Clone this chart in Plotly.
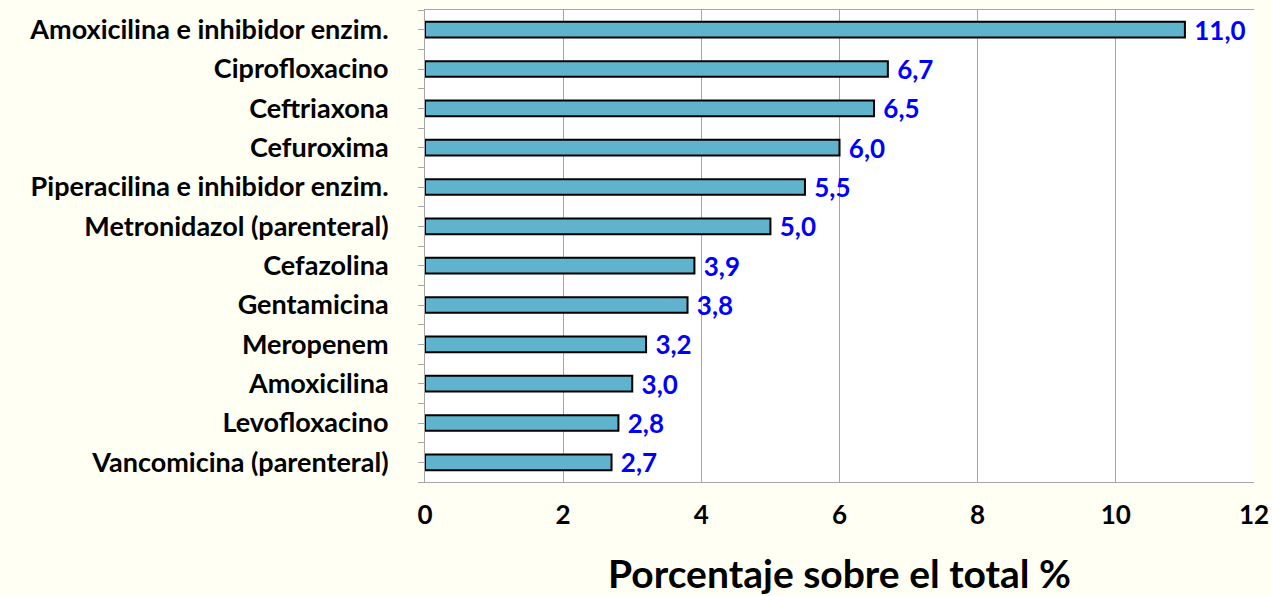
import plotly.graph_objects as go

categorias = [
    "Amoxicilina e inhibidor enzim.",
    "Ciprofloxacino",
    "Ceftriaxona",
    "Cefuroxima",
    "Piperacilina e inhibidor enzim.",
    "Metronidazol (parenteral)",
    "Cefazolina",
    "Gentamicina",
    "Meropenem",
    "Amoxicilina",
    "Levofloxacino",
    "Vancomicina (parenteral)",
]
porcentajes = [11.0, 6.7, 6.5, 6.0, 5.5, 5.0, 3.9, 3.8, 3.2, 3.0, 2.8, 2.7]
ticks_x = [0, 2, 4, 6, 8, 10, 12]

posiciones = list(range(len(categorias)))

# ticks a cada media categoria, como en Excel (centro y limites)
tickvals = []
ticktext = []
for i, c in enumerate(categorias):
    tickvals += [i - 0.5, i]
    ticktext += ["", c]
tickvals.append(len(categorias) - 0.5)
ticktext.append("")

fig = go.Figure(
    go.Bar(
        x=porcentajes,
        y=posiciones,
        orientation="h",
        marker=dict(color="#5FB3CC", line=dict(color="black", width=2)),
        texttemplate=" %{x:.1f}",
        textposition="outside",
        constraintext="none",
        textfont=dict(color="#0000FF", size=26, family="Lato", weight="bold"),
        cliponaxis=False,
        width=0.4,
    )
)

fig.update_layout(
    width=1272,
    height=596,
    margin=dict(l=425, r=18, t=10, b=114),
    paper_bgcolor="#FFFFF4",
    plot_bgcolor="white",
    separators=",.",
    showlegend=False,
    font=dict(family="Lato", color="black"),
)

fig.update_xaxes(
    range=[0, 12],
    tickvals=ticks_x,
    showgrid=True,
    gridcolor="#A6A6A6",
    gridwidth=1,
    showline=True,
    linecolor="#A6A6A6",
    mirror=True,
    zeroline=False,
    ticks="",
    automargin=False,
    ticklabelstandoff=10,
    tickfont=dict(size=26, family="Lato", weight="bold"),
    title=dict(
        text="Porcentaje sobre el total %",
        font=dict(size=39, family="Lato", weight="bold"),
        standoff=32,
    ),
)

fig.update_yaxes(
    range=[len(categorias) - 0.5, -0.5],
    tickmode="array",
    tickvals=tickvals,
    ticktext=ticktext,
    showgrid=False,
    showline=True,
    linecolor="#A6A6A6",
    zeroline=False,
    ticks="outside",
    ticklen=6,
    tickcolor="#A6A6A6",
    automargin=False,
    ticklabelstandoff=24,
    tickfont=dict(size=27, family="Lato", weight="bold"),
)

# quitar el margen por defecto del body para que la figura ocupe toda la ventana
fig.write_html(
    "out.html",
    config={"displayModeBar": False},
    post_script="document.body.style.margin='0';document.body.style.background='#FFFFF4';",
)
